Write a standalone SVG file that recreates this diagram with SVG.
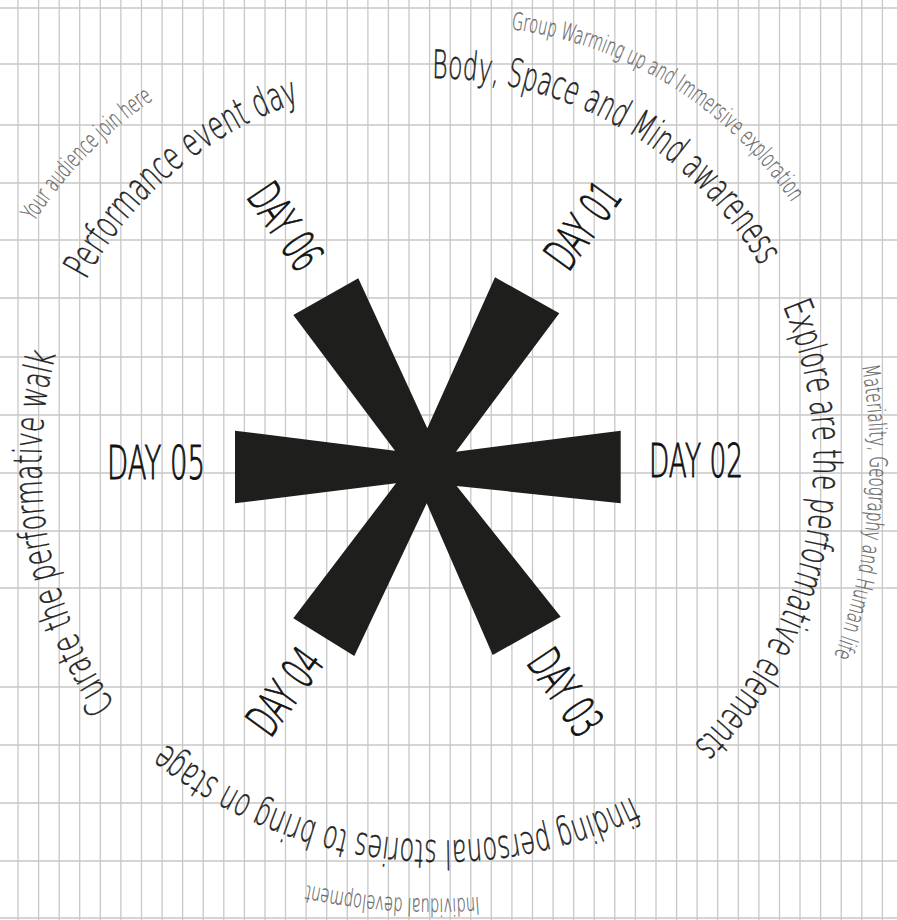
<svg xmlns="http://www.w3.org/2000/svg" width="897" height="920" viewBox="0 0 897 920">
<style>
.grid{stroke:#c8c8c8;stroke-width:1.3;fill:none}
.day{font-family:"DejaVu Sans",sans-serif;font-weight:200;font-size:46px;fill:#111;stroke:#111;stroke-width:1;text-anchor:middle}
.big{font-family:"DejaVu Sans",sans-serif;font-weight:200;font-size:39px;fill:#222;stroke:#222;stroke-width:0.5}
.small{font-family:"DejaVu Sans",sans-serif;font-weight:200;font-size:24px;fill:#666;stroke:#666;stroke-width:0.3}
</style>
<defs>
<path id="p-body" d="M432,78 A380,380 0 0 1 761,267"/>
<path id="p-group" d="M511,29 A400,400 0 0 1 792,203"/>
<path id="p-perf" d="M86,280 A375,375 0 0 1 300,102"/>
<path id="p-your" d="M34,222 A440,440 0 0 1 154,99"/>
<path id="p-explore" d="M783,306 A400,400 0 0 1 693,746"/>
<path id="p-mat" d="M862,366 A560,560 0 0 1 834,657"/>
<path id="p-curate" d="M115,705 A430,430 0 0 1 56,353"/>
<path id="p-finding" d="M632,797 A440,440 0 0 1 165,743"/>
<path id="p-indiv" d="M479,897 A600,600 0 0 1 306,885"/>
</defs>
<rect width="897" height="920" fill="#fff"/>
<g id="grid">
<path class="grid" d="M18,0V920M38.6,0V920M59.2,0V920M79.7,0V920M100.3,0V920M120.9,0V920M141.5,0V920M162.1,0V920M182.6,0V920M203.2,0V920M223.8,0V920M244.4,0V920M265,0V920M285.5,0V920M306.1,0V920M326.7,0V920M347.3,0V920M367.9,0V920M388.4,0V920M409,0V920M429.6,0V920M450.2,0V920M470.8,0V920M491.3,0V920M511.9,0V920M532.5,0V920M553.1,0V920M573.7,0V920M594.2,0V920M614.8,0V920M635.4,0V920M656,0V920M676.6,0V920M697.1,0V920M717.7,0V920M738.3,0V920M758.9,0V920M779.5,0V920M800,0V920M820.6,0V920M841.2,0V920M861.8,0V920M882.4,0V920"/>
<path class="grid" d="M0,8H897M0,64H897M0,125H897M0,183H897M0,240H897M0,298H897M0,357H897M0,415H897M0,473H897M0,531H897M0,588H897M0,687H897M0,745H897M0,803H897M0,861H897M0,918H897"/>
</g>
<g id="asterisk">
<polygon fill="#1e1e1c" points="235,430.7 395,450.7 293.3,315 358.3,278.3 427.3,428.3 495,277.3 559.3,313.3 456,451.7 620.7,430.7 620.7,503.3 456.7,486 560.7,616.7 492.7,655 426.7,503.3 354.3,656 293.3,618.3 396,483.3 235,503.3"/>
</g>
<g id="day01"><text class="day" transform="translate(582,225) rotate(-54)" y="17" textLength="94" lengthAdjust="spacingAndGlyphs">DAY 01</text></g>
<g id="day02"><text class="day" x="696" y="477" textLength="94" lengthAdjust="spacingAndGlyphs">DAY 02</text></g>
<g id="day03"><text class="day" transform="translate(566,692) rotate(56)" y="17" textLength="94" lengthAdjust="spacingAndGlyphs">DAY 03</text></g>
<g id="day04"><text class="day" transform="translate(284,691) rotate(-54)" y="17" textLength="94" lengthAdjust="spacingAndGlyphs">DAY 04</text></g>
<g id="day05"><text class="day" x="156" y="479" textLength="98" lengthAdjust="spacingAndGlyphs">DAY 05</text></g>
<g id="day06"><text class="day" transform="translate(286,226) rotate(56)" y="17" textLength="94" lengthAdjust="spacingAndGlyphs">DAY 06</text></g>
<g id="label-body"><text class="big"><textPath href="#p-body" textLength="396" lengthAdjust="spacingAndGlyphs">Body, Space and Mind awareness</textPath></text></g>
<g id="label-group"><text class="small"><textPath href="#p-group" textLength="340" lengthAdjust="spacingAndGlyphs">Group Warming up and Immersive exploration</textPath></text></g>
<g id="label-perf"><text class="big"><textPath href="#p-perf" textLength="285" lengthAdjust="spacingAndGlyphs">Performance event day</textPath></text></g>
<g id="label-your"><text class="small"><textPath href="#p-your" textLength="172" lengthAdjust="spacingAndGlyphs">Your audience join here</textPath></text></g>
<g id="label-explore"><text class="big"><textPath href="#p-explore" textLength="476" lengthAdjust="spacingAndGlyphs">Explore are the performative elements</textPath></text></g>
<g id="label-mat"><text class="small"><textPath href="#p-mat" textLength="295" lengthAdjust="spacingAndGlyphs">Materiality, Geography and Human life</textPath></text></g>
<g id="label-curate"><text class="big"><textPath href="#p-curate" textLength="367" lengthAdjust="spacingAndGlyphs">Curate the performative walk</textPath></text></g>
<g id="label-finding"><text class="big"><textPath href="#p-finding" textLength="495" lengthAdjust="spacingAndGlyphs">finding personal stories to bring on stage</textPath></text></g>
<g id="label-indiv"><text class="small"><textPath href="#p-indiv" textLength="173" lengthAdjust="spacingAndGlyphs">Individual development</textPath></text></g>
</svg>
